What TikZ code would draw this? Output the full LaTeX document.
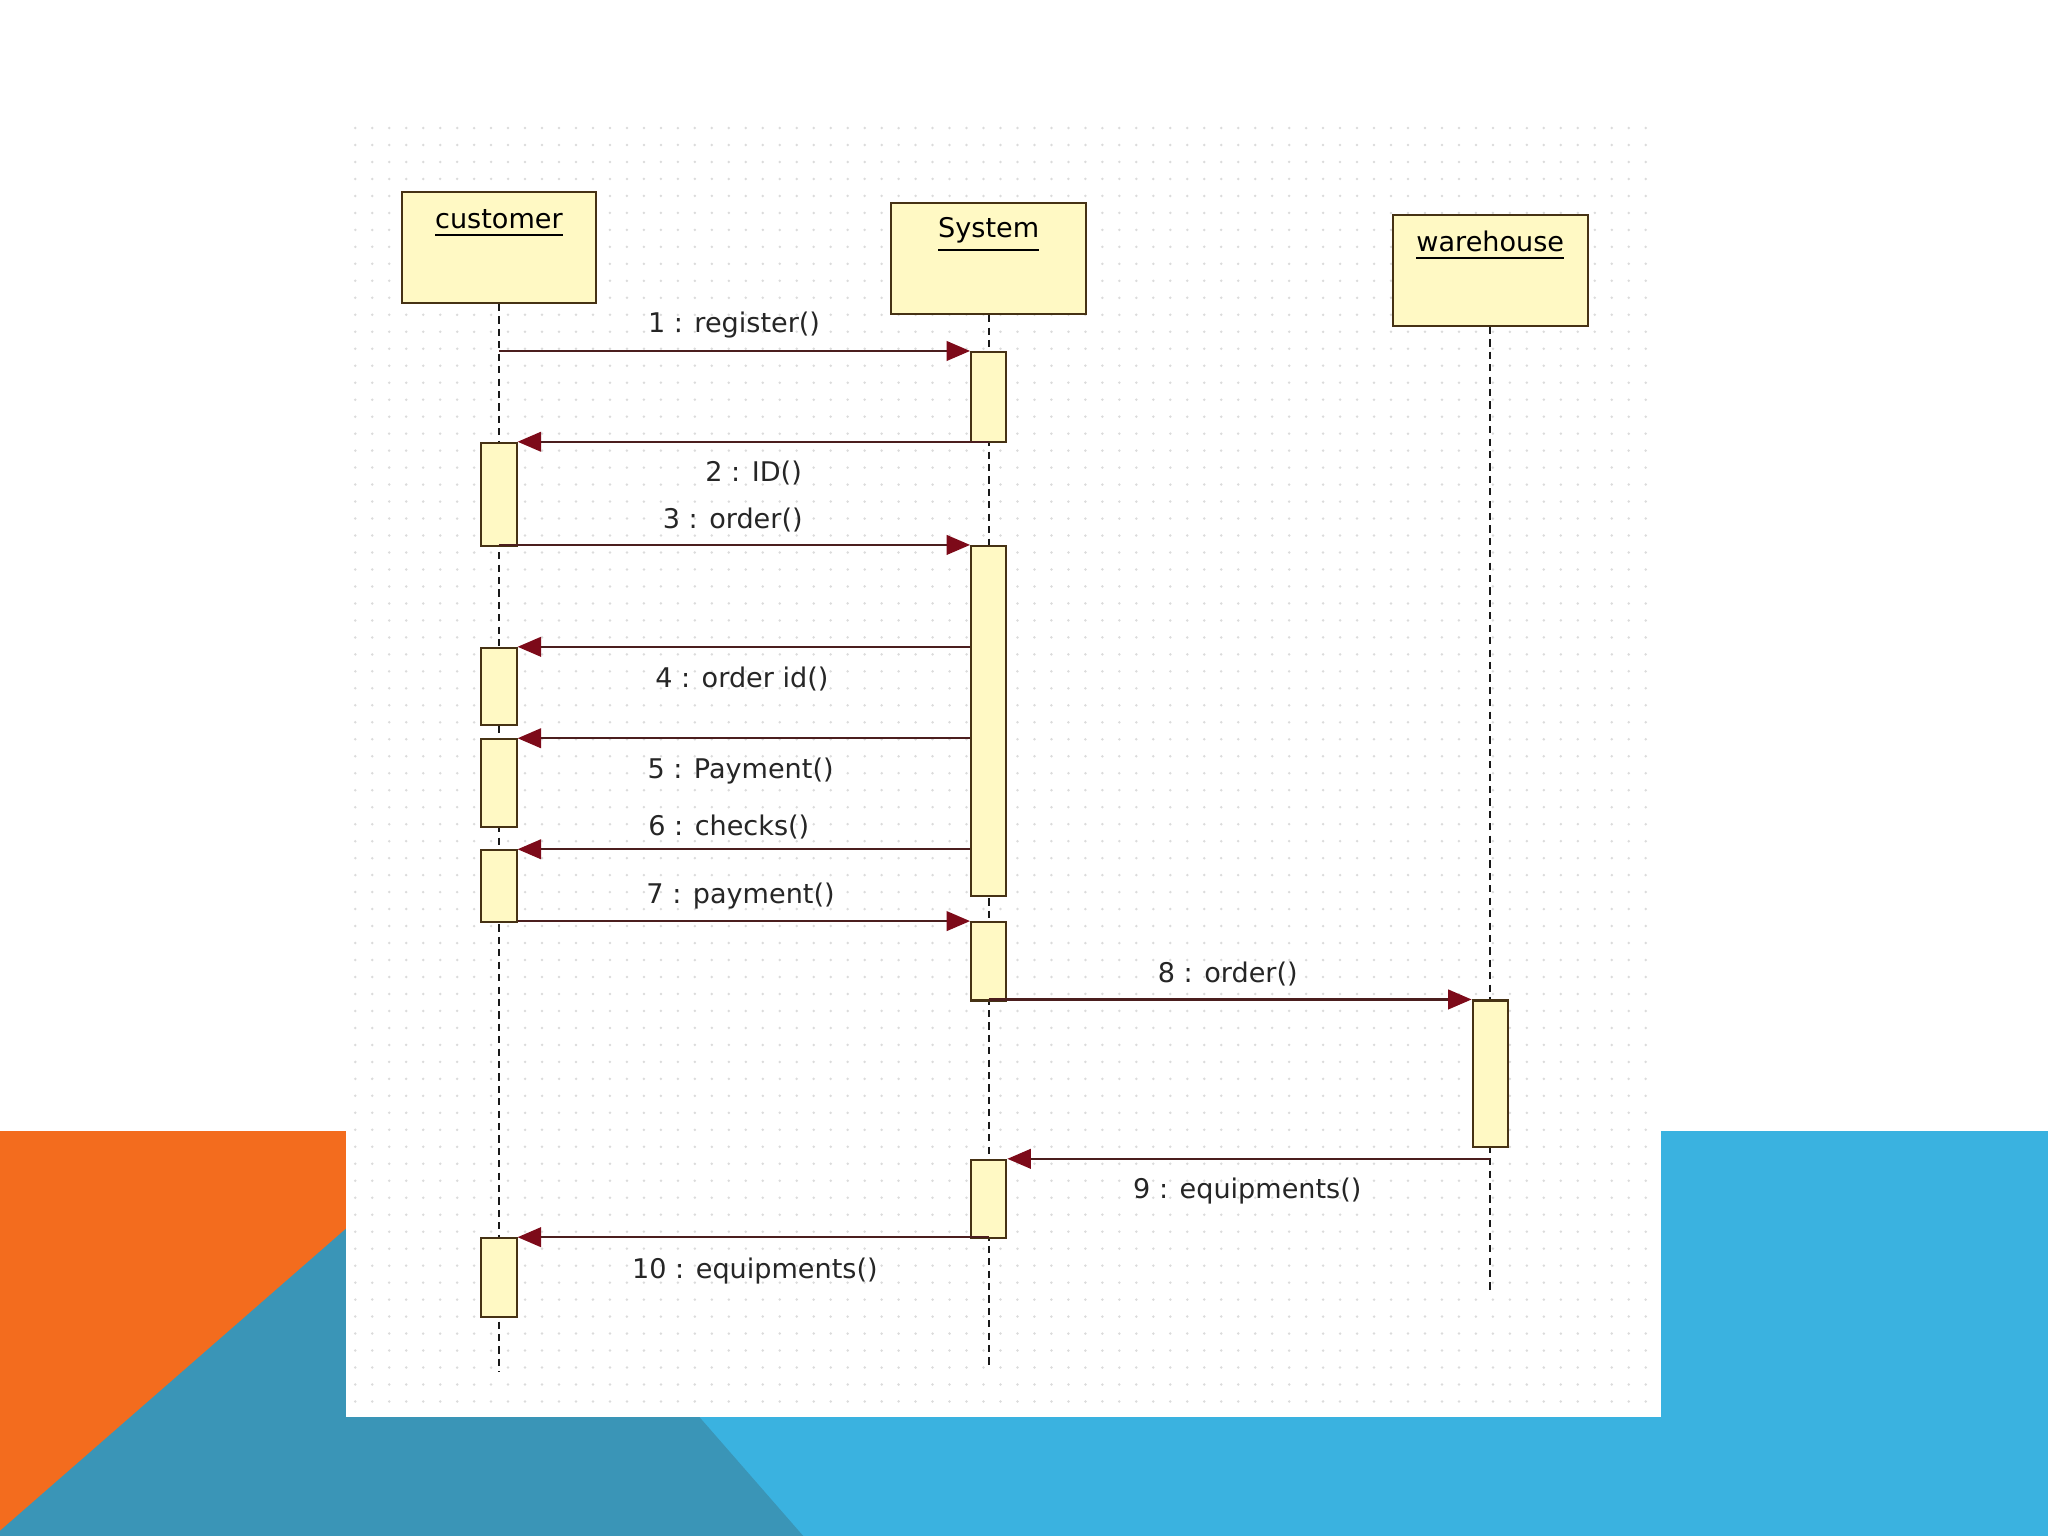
\documentclass[tikz,border=0pt]{standalone}
\usepackage{fontspec}
\setmainfont{DejaVu Sans}
\usetikzlibrary{arrows.meta}
\definecolor{slideorange}{RGB}{243,108,30}
\definecolor{slideteal}{RGB}{58,149,183}
\definecolor{slideblue}{RGB}{58,178,224}
\definecolor{umlfill}{RGB}{255,249,196}
\definecolor{umledge}{RGB}{70,50,20}
\definecolor{msgline}{RGB}{75,30,30}
\definecolor{msghead}{RGB}{125,10,25}

\begin{document}
\begin{tikzpicture}[x=0.1mm,y=-0.1mm,font=\fontsize{5.9}{7}\selectfont,
obj/.style={draw=umledge,fill=umlfill,line width=0.45pt,minimum width=14.9mm,minimum height=8.5mm,inner sep=0pt},
act/.style={draw=umledge,fill=umlfill,line width=0.45pt,minimum width=2.7mm,inner sep=0pt},
life/.style={draw=black!90,line width=0.45pt,dash pattern=on 0.55mm off 0.4mm},
msg/.style={draw=msgline,line width=0.5pt,-{Triangle[length=1.8mm,width=1.5mm,color=msghead,fill=msghead]}},
lbl/.style={text=black!85,inner sep=1pt}]
\useasboundingbox (0,0) rectangle (1568,1176);
% slide background
\fill[white] (0,0) rectangle (1568,1176);
\fill[slideblue] (0,866) rectangle (1568,1176);
\fill[slideorange] (0,866) rectangle (347,1176);
\fill[slideteal] (347,869) -- (0,1172) -- (0,1176) -- (615,1176) -- cycle;
% diagram sheet with dot grid
\fill[white] (265,92) rectangle (1272,1085);
\foreach \i in {0,...,76} \foreach \j in {0,...,75}
  \fill[black!14] (272+13*\i,98+13*\j) circle (0.3pt);
% objects
\node[obj] (cus) at (382,189.5) {};
\node[obj] (sys) at (757,198) {};
\node[obj] (wh) at (1141,207) {};
\node (cusname) at (382,171) {\underline{customer}};
\node (sysname) at (757,180) {\underline{System}};
\node (whname) at (1141,188) {\underline{warehouse}};
% lifelines
\coordinate (cusend) at (382,1050);
\coordinate (sysend) at (757,1045);
\coordinate (whend) at (1141,990);
\draw[life] (cus.south) -- (cusend);
\draw[life] (sys.south) -- (sysend);
\draw[life] (wh.south) -- (whend);
% activations
\node[act,minimum height=6.9mm] (sa1) at (757,304) {};
\node[act,minimum height=7.9mm] (ca1) at (382,378.5) {};
\node[act,minimum height=26.8mm] (sa2) at (757,552) {};
\node[act,minimum height=5.9mm] (ca2) at (382,525.5) {};
\node[act,minimum height=6.7mm] (ca3) at (382,599.5) {};
\node[act,minimum height=5.5mm] (ca4) at (382,678.5) {};
\node[act,minimum height=6mm] (sa3) at (757,736) {};
\node[act,minimum height=11.2mm] (wa1) at (1141,822) {};
\node[act,minimum height=6mm] (sa4) at (757,918) {};
\node[act,minimum height=6mm] (ca5) at (382,978) {};
% messages
\draw[msg] (sa1.north west -| cus.south) -- (sa1.north west);
\draw[msg] (ca1.north east -| sa1.south) -- (ca1.north east);
\draw[msg] (sa2.north west -| ca1.south) -- (sa2.north west);
\draw[msg] (sa2.west |- ca2.north) -- (ca2.north east);
\draw[msg] (sa2.west |- ca3.north) -- (ca3.north east);
\draw[msg] (sa2.west |- ca4.north) -- (ca4.north east);
\draw[msg] (sa3.north west -| ca4.east) -- (sa3.north west);
\draw[msg] (wa1.north west -| sa3.south) -- (wa1.north west);
\draw[msg] (wh.south |- sa4.north) -- (sa4.north east);
\draw[msg] (ca5.north east -| sa4.south) -- (ca5.north east);
% message labels
\node[lbl] (l1) at (562,249) {1 : register()};
\node[lbl] (l2) at (577,362) {2 : ID()};
\node[lbl] (l3) at (561,398) {3 : order()};
\node[lbl] (l4) at (568,520) {4 : order id()};
\node[lbl] (l5) at (567,590) {5 : Payment()};
\node[lbl] (l6) at (558,633) {6 : checks()};
\node[lbl] (l7) at (567,686) {7 : payment()};
\node[lbl] (l8) at (940,746) {8 : order()};
\node[lbl] (l9) at (955,912) {9 : equipments()};
\node[lbl] (l10) at (578,973) {10 : equipments()};
\end{tikzpicture}
\end{document}
